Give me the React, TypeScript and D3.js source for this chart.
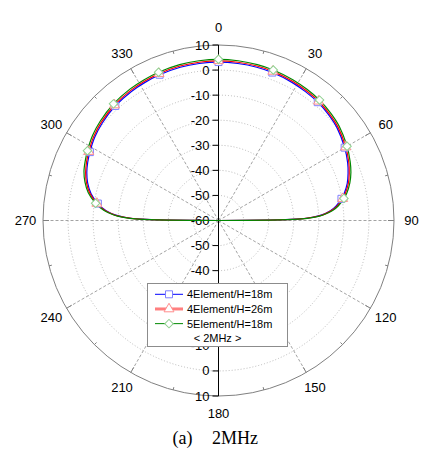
import { useEffect, useRef } from "react"
import * as d3 from "d3"

// elevation angle, degrees clockwise from the top
const angles = [
  -90, -89, -88, -87, -85, -82, -78, -74, -70, -66, -62, -56, -50, -42, -34, -28, -22, -14, -7, 0,
  7, 14, 20, 28, 34, 40, 46, 52, 60, 66, 70, 74, 78, 80, 83, 85, 87, 88, 89, 90,
]

const blue = [
  -60, -29, -22.5, -19, -15, -11.4, -8.0, -5.7, -4.1, -2.9, -1.9, -0.5, 0.5, 1.5, 2.1, 2.4, 2.7, 3.0, 3.1, 3.2,
  3.1, 3.0, 2.8, 2.4, 2.0, 1.6, 0.9, 0.0, -1.9, -3.6, -5.0, -6.6, -8.8, -10.2, -12.8, -15.2, -19, -22.5, -29, -60,
]

const red = [
  -60, -28.5, -22, -18.6, -14.6, -11.0, -7.5, -5.2, -3.6, -2.4, -1.4, 0.0, 1.0, 2.0, 2.6, 2.9, 3.2, 3.5, 3.6, 3.7,
  3.6, 3.5, 3.3, 2.9, 2.5, 2.1, 1.4, 0.5, -1.4, -3.1, -4.5, -6.1, -8.3, -9.7, -12.3, -14.8, -18.6, -22, -28.5, -60,
]

const green = [
  -60, -28, -21.5, -18.2, -14.2, -10.5, -6.9, -4.6, -2.9, -1.8, -0.8, 0.6, 1.6, 2.6, 3.2, 3.5, 3.8, 4.1, 4.2, 4.3,
  4.2, 4.1, 3.9, 3.5, 3.1, 2.7, 2.0, 1.1, -0.8, -2.5, -3.8, -5.5, -7.7, -9.2, -11.8, -14.3, -18.2, -21.5, -28, -60,
]

const markerAngles = [-82, -62, -42, -22, 0, 20, 40, 60, 80]

const angleTicks = [0, 30, 60, 90, 120, 150, 180, 210, 240, 270, 300, 330]
const radialTicks = [-60, -50, -40, -30, -20, -10, 0, 10]
// lower-half labels that sit fully under the legend box
const hiddenLower = [-30, -20]

const seriesNames = ["4Element/H=18m", "4Element/H=26m", "5Element/H=18m"]
const legendNote = "< 2MHz >"
const captionTag = "(a)"
const captionText = "2MHz"

export default function App() {
  const svgRef = useRef<SVGSVGElement | null>(null)

  useEffect(() => {
    if (!svgRef.current) return
    document.body.style.margin = "0"

    const width = 438
    const height = 458
    const cx = 218.5
    const cy = 220.5
    const R = 175.5
    const font = "'Liberation Sans', Arial, sans-serif"

    const svg = d3.select(svgRef.current).attr("width", width).attr("height", height)
    svg.selectAll("*").remove()

    const r = d3.scaleLinear().domain([-60, 10]).range([0, R]).clamp(true)
    const a = d3.scaleLinear().domain([0, 360]).range([0, 2 * Math.PI])
    const pt = (deg: number, rad: number): [number, number] => [
      rad * Math.sin(a(deg)),
      -rad * Math.cos(a(deg)),
    ]

    const g = svg.append("g").attr("transform", `translate(${cx},${cy})`)

    // rings
    g.selectAll("circle.ring")
      .data(radialTicks.filter(t => t > -60 && t < 10))
      .join("circle")
      .attr("class", "ring")
      .attr("r", d => r(d))
      .attr("fill", "none")
      .attr("stroke", "#a8a8a8")
      .attr("stroke-width", 0.8)
      .attr("stroke-dasharray", "1,2")

    // spokes
    g.selectAll("line.spoke")
      .data(angleTicks.filter(d => d % 180 !== 0))
      .join("line")
      .attr("class", "spoke")
      .attr("x1", 0)
      .attr("y1", 0)
      .attr("x2", d => pt(d, R)[0])
      .attr("y2", d => pt(d, R)[1])
      .attr("stroke", "#8c8c8c")
      .attr("stroke-width", 0.8)
      .attr("stroke-dasharray", "3,2")

    // outer circle
    g.append("circle")
      .attr("r", R)
      .attr("fill", "none")
      .attr("stroke", "#808080")
      .attr("stroke-width", 1)

    // ticks on the outer circle
    const outerTicks = d3.range(0, 360, 15)
    g.selectAll("line.otick")
      .data(outerTicks)
      .join("line")
      .attr("class", "otick")
      .attr("x1", d => pt(d, R)[0])
      .attr("y1", d => pt(d, R)[1])
      .attr("x2", d => pt(d, R - (d % 30 === 0 ? 6 : 3))[0])
      .attr("y2", d => pt(d, R - (d % 30 === 0 ? 6 : 3))[1])
      .attr("stroke", "#808080")
      .attr("stroke-width", 1)

    // angle labels
    g.selectAll("text.alab")
      .data(angleTicks)
      .join("text")
      .attr("class", "alab")
      .attr("x", d => pt(d, 193)[0])
      .attr("y", d => pt(d, 193)[1])
      .attr("text-anchor", "middle")
      .attr("dominant-baseline", "central")
      .attr("font-family", font)
      .attr("font-size", 13)
      .attr("fill", "#000")
      .text(d => d)

    // vertical radial axis
    g.append("line")
      .attr("x1", 0)
      .attr("x2", 0)
      .attr("y1", -R)
      .attr("y2", R)
      .attr("stroke", "#000")
      .attr("stroke-width", 1)

    const axisTicks = [
      ...radialTicks.map(v => ({ v, y: -r(v), show: true })),
      ...radialTicks
        .filter(v => v > -60)
        .map(v => ({ v, y: r(v), show: !hiddenLower.includes(v) })),
    ]
    g.selectAll("line.rtick")
      .data(axisTicks)
      .join("line")
      .attr("class", "rtick")
      .attr("x1", -6)
      .attr("x2", 0)
      .attr("y1", d => d.y)
      .attr("y2", d => d.y)
      .attr("stroke", "#000")
      .attr("stroke-width", 1)

    g.append("g")
      .selectAll("text")
      .data(axisTicks.filter(d => d.show))
      .join("text")
      .attr("x", -9)
      .attr("y", d => d.y)
      .attr("text-anchor", "end")
      .attr("dominant-baseline", "central")
      .attr("font-family", font)
      .attr("font-size", 13)
      .attr("fill", "#000")
      .text(d => d.v)

    // series
    const line = d3
      .lineRadial<number>()
      .angle((_, i) => a(angles[i]))
      .radius(d => r(d))
      .curve(d3.curveCatmullRom.alpha(0.5))

    const series = [
      { values: blue, color: "#0000ff", mark: "#7f7fff", shape: "square" },
      { values: red, color: "#ff0000", mark: "#ff8c8c", shape: "triangle" },
      { values: green, color: "#008800", mark: "#8fd08f", shape: "diamond" },
    ]

    series.forEach(s => {
      g.append("path")
        .datum(s.values)
        .attr("fill", "none")
        .attr("stroke", s.color)
        .attr("stroke-width", 1.2)
        .attr("d", line)
    })

    const symbolPath = (shape: string) => {
      if (shape === "square") return d3.symbol().type(d3.symbolSquare).size(49)()
      if (shape === "triangle") return d3.symbol().type(d3.symbolTriangle).size(42)()
      return d3.symbol().type(d3.symbolSquare).size(36)()
    }

    series.forEach(s => {
      const pts = markerAngles.map(m => {
        const i = angles.indexOf(m)
        return pt(m, r(s.values[i]))
      })
      g.selectAll(null)
        .data(pts)
        .join("path")
        .attr("d", symbolPath(s.shape))
        .attr("transform", d => `translate(${d[0]},${d[1]})${s.shape === "diamond" ? " rotate(45)" : ""}`)
        .attr("fill", "#fff")
        .attr("stroke", s.mark)
        .attr("stroke-width", 1)
    })

    // legend
    const lg = svg.append("g")
    lg.append("rect")
      .attr("x", 147.5)
      .attr("y", 283.5)
      .attr("width", 140)
      .attr("height", 63)
      .attr("fill", "#fff")
      .attr("stroke", "#8c8c8c")
      .attr("stroke-width", 1)

    const rowY = d3.scaleLinear().domain([0, 3]).range([294.3, 338.3])
    const legendLine = [
      { color: "#0000ff", w: 1 },
      { color: "#ff7f7f", w: 3 },
      { color: "#008800", w: 1 },
    ]
    series.forEach((s, i) => {
      const y = rowY(i)
      lg.append("line")
        .attr("x1", 155)
        .attr("x2", 183)
        .attr("y1", y)
        .attr("y2", y)
        .attr("stroke", legendLine[i].color)
        .attr("stroke-width", legendLine[i].w)
      lg.append("path")
        .attr("d", symbolPath(s.shape))
        .attr("transform", `translate(169,${y})${s.shape === "diamond" ? " rotate(45)" : ""}`)
        .attr("fill", "#fff")
        .attr("stroke", s.mark)
      lg.append("text")
        .attr("x", 187)
        .attr("y", y)
        .attr("dominant-baseline", "central")
        .attr("font-family", font)
        .attr("font-size", 11)
        .attr("fill", "#000")
        .text(seriesNames[i])
    })
    lg.append("text")
      .attr("x", 217.5)
      .attr("y", rowY(3))
      .attr("text-anchor", "middle")
      .attr("dominant-baseline", "central")
      .attr("font-family", font)
      .attr("font-size", 11)
      .attr("fill", "#000")
      .text(legendNote)

    // caption
    svg.append("text")
      .attr("x", 172.5)
      .attr("y", 444)
      .attr("font-family", "'Liberation Serif', 'Times New Roman', serif")
      .attr("font-size", 18)
      .attr("fill", "#000")
      .text(captionTag)
    svg.append("text")
      .attr("x", 212)
      .attr("y", 444)
      .attr("font-family", "'Liberation Serif', 'Times New Roman', serif")
      .attr("font-size", 18)
      .attr("fill", "#000")
      .text(captionText)
  }, [])

  return <svg ref={svgRef} style={{ display: "block" }} />
}
